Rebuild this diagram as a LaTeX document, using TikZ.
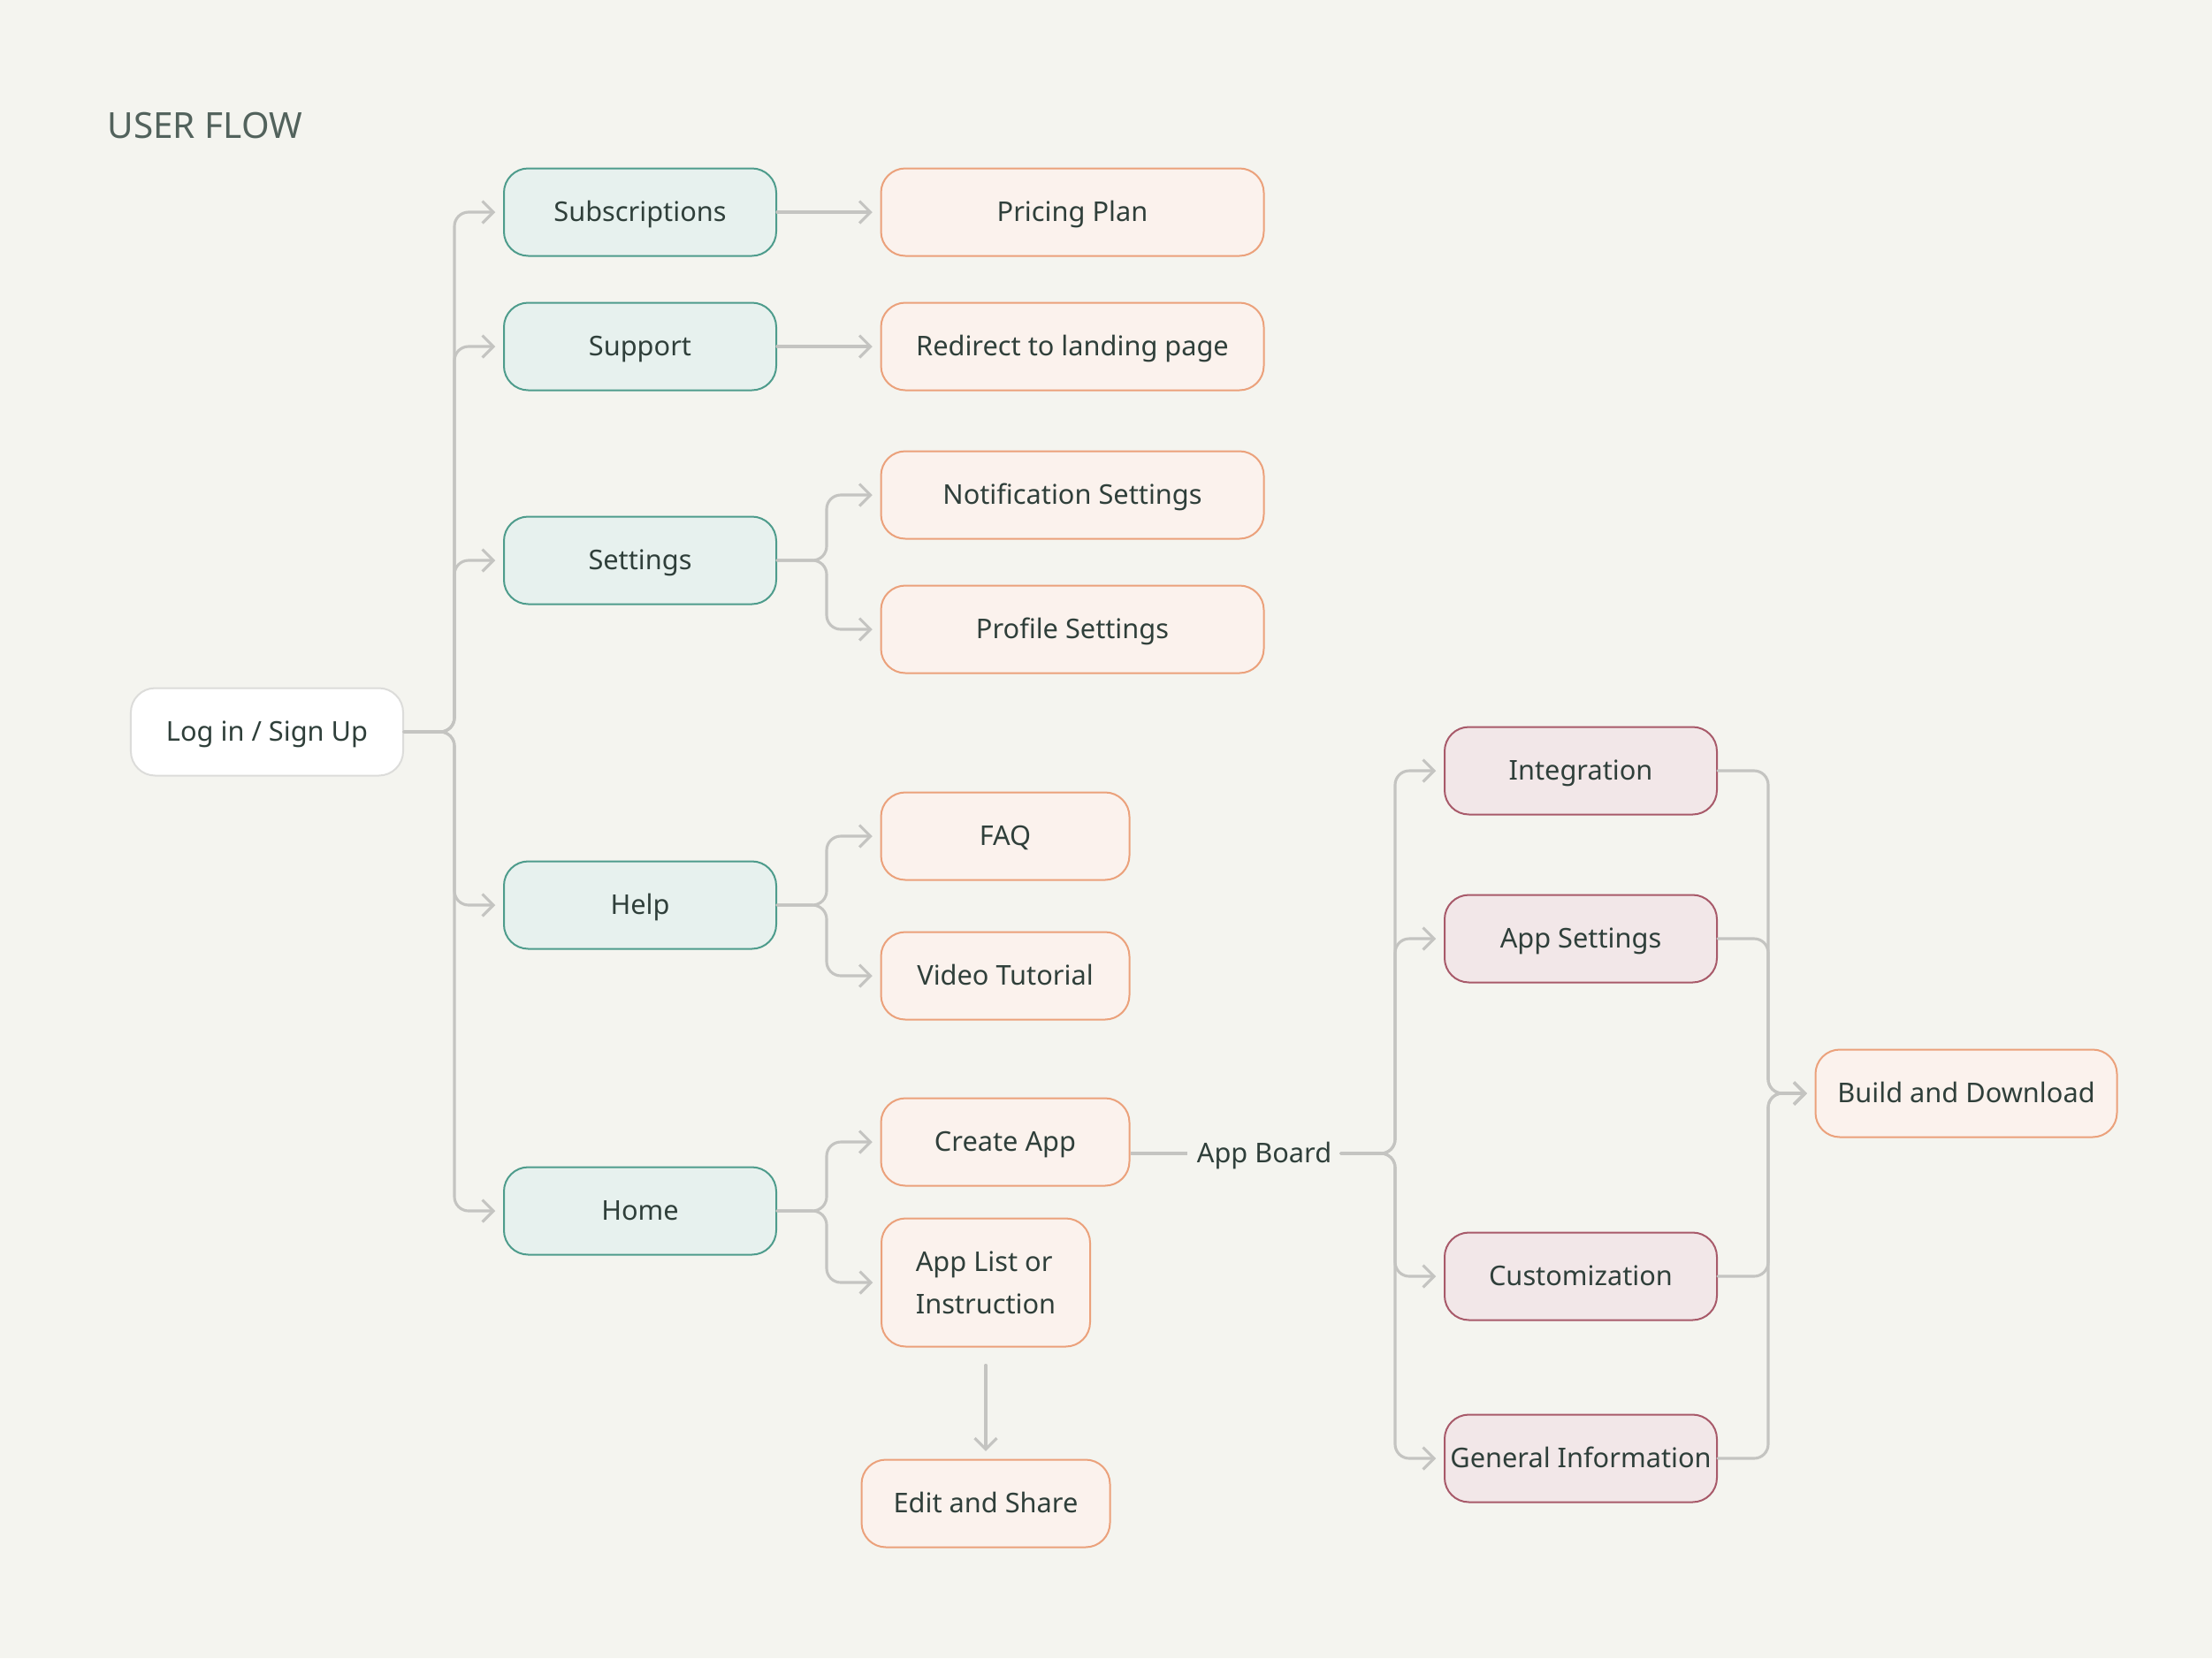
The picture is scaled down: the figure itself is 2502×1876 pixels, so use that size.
\documentclass[tikz,border=0pt]{standalone}
\usepackage{fontspec}
\setmainfont{Noto Sans}
\usetikzlibrary{arrows.meta,calc}
\definecolor{bg}{HTML}{F4F4EF}
\definecolor{txt}{HTML}{2F3F3A}
\definecolor{titleC}{HTML}{52625C}
\definecolor{lineC}{HTML}{C4C4C1}
\definecolor{tealB}{HTML}{4E9C8C}
\definecolor{tealF}{HTML}{E7F1EE}
\definecolor{orB}{HTML}{EBA17B}
\definecolor{orF}{HTML}{FBF2ED}
\definecolor{pkB}{HTML}{A85A6A}
\definecolor{pkF}{HTML}{F2E7E8}
\definecolor{grB}{HTML}{DCDCDA}
\tikzset{
  base/.style={rounded corners=11pt, draw, line width=0.8pt, minimum height=39.6pt,
    inner sep=0pt, text=txt, font=\fontsize{12.3}{19.2}\selectfont,
    text height=8pt, text depth=0pt},
  tealbox/.style={base, draw=tealB, fill=tealF, minimum width=123.2pt},
  orwide/.style={base, draw=orB, fill=orF, minimum width=173.2pt},
  ornarrow/.style={base, draw=orB, fill=orF, minimum width=112.4pt},
  pkbox/.style={base, draw=pkB, fill=pkF, minimum width=123.2pt},
  conn/.style={draw=lineC, line width=1.25pt, rounded corners=6.4pt, line cap=round,
    -{Straight Barb[length=5pt,width=10pt,line width=1.25pt]}, shorten >=3.5pt},
  plain/.style={draw=lineC, line width=1.25pt, rounded corners=6.4pt},
}
\begin{document}
\begin{tikzpicture}[x=0.4pt,y=-0.4pt]
\fill[bg] (0,0) rectangle (2502,1876);
\useasboundingbox (0,0) rectangle (2502,1876);

\node[anchor=west, text=titleC, font=\fontsize{16.2}{20}\selectfont, inner sep=0pt] (title) at (121,142) {USER FLOW};

\node[base, draw=grB, fill=white, minimum width=123.2pt] (login) at (302,828) {Log in / Sign Up};

\node[tealbox] (sub) at (724,240) {Subscriptions};
\node[tealbox] (sup) at (724,392) {Support};
\node[tealbox] (set) at (724,634) {Settings};
\node[tealbox] (help) at (724,1024) {Help};
\node[tealbox] (home) at (724,1370) {Home};

\node[orwide] (price) at (1213,240) {Pricing Plan};
\node[orwide] (redir) at (1213,392) {Redirect to landing page};
\node[orwide] (notif) at (1213,560) {Notification Settings};
\node[orwide] (prof) at (1213,712) {Profile Settings};

\node[ornarrow] (faq) at (1137,946) {FAQ};
\node[ornarrow] (video) at (1137,1104) {Video Tutorial};
\node[ornarrow] (create) at (1137,1292) {Create App};
\node[base, draw=orB, fill=orF, minimum width=94.4pt, minimum height=58pt, align=left, text height=, text depth=] (applist) at (1115,1451) {App List or\\Instruction};
\node[ornarrow] (edit) at (1115,1701) {Edit and Share};

\node[text=txt, font=\fontsize{12.3}{15}\selectfont, inner xsep=4pt, inner ysep=2pt, text height=8pt, text depth=0pt] (board) at (1430,1305) {App Board};

\node[pkbox] (integ) at (1788,872) {Integration};
\node[pkbox] (appset) at (1788,1062) {App Settings};
\node[pkbox] (custom) at (1788,1444) {Customization};
\node[pkbox] (general) at (1788,1650) {General Information};

\node[base, draw=orB, fill=orF, minimum width=136.4pt] (build) at (2224,1237) {Build and Download};

% trunk coordinates
\coordinate (tL) at (514,828);
\coordinate (tS) at (935,634);
\coordinate (tH) at (935,1024);
\coordinate (tHo) at (935,1370);
\coordinate (tA) at (1578,1305);
\coordinate (tR) at (2000,1237);

\foreach \t in {sub,sup,set,help,home}
  \draw[conn] (login.east) -- (tL) |- (\t.west);

\draw[conn] (sub.east) -- (price.west);
\draw[conn] (sup.east) -- (redir.west);
\draw[conn] (set.east) -- (tS) |- (notif.west);
\draw[conn] (set.east) -- (tS) |- (prof.west);
\draw[conn] (help.east) -- (tH) |- (faq.west);
\draw[conn] (help.east) -- (tH) |- (video.west);
\draw[conn] (home.east) -- (tHo) |- (create.west);
\draw[conn] (home.east) -- (tHo) |- (applist.west);

\draw[conn, shorten <=8pt] (applist.south) -- (edit.north);

\draw[plain] (board.west -| create.east) -- (board.west);
\foreach \t in {integ,appset,custom,general}
  \draw[conn] (board.east) -- (tA) |- (\t.west);

\foreach \t in {integ,appset,custom,general}
  \draw[conn] (\t.east) -- (\t.east -| tR) |- (build.west);
\end{tikzpicture}
\end{document}
